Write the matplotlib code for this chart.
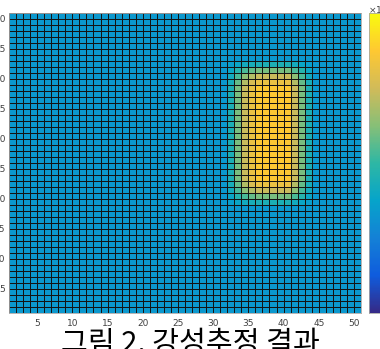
import numpy as np
import matplotlib.pyplot as plt
from matplotlib.colors import LinearSegmentedColormap

# parula-like colour map
parula_colors = ['#352a87', '#0f5cdd', '#1481d6', '#06a4ca', '#2eb7a4',
                 '#87bf77', '#d1bb59', '#fec832', '#f9fb0e']
parula = LinearSegmentedColormap.from_list('parula', parula_colors)

# grid of 51 x 51 nodes -> 50 x 50 faces
n_nodes = 51
background = 0.335
peak = 0.87

# stiff region: per-column and per-row weights of the raised patch
patch_cols = list(range(32, 44))
col_weight = [0.2, 0.5, 0.75, 0.9, 1, 1, 1, 1, 1, 0.75, 0.5, 0.2]
patch_rows = list(range(19, 43))
row_weight = [0.2, 0.5, 0.75, 0.9] + [1] * 16 + [0.9, 0.75, 0.5, 0.2]

x = np.arange(1, n_nodes + 1)
y = np.arange(1, n_nodes + 1)
C = np.full((n_nodes - 1, n_nodes - 1), background)
for r, wr in zip(patch_rows, row_weight):
    for c, wc in zip(patch_cols, col_weight):
        C[r - 1, c - 1] = background + (peak - background) * wr * wc

W, H = 380, 349
fig = plt.figure(figsize=(W / 100, H / 100), dpi=100)
ax = fig.add_axes([9 / W, 36 / H, 352 / W, 300 / H])
mesh = ax.pcolormesh(x, y, C, cmap=parula, vmin=0, vmax=1,
                     edgecolors='#141414', linewidth=0.5, shading='flat')
ax.set_xlim(1, 51)
ax.set_ylim(1, 51)
ax.set_xticks(np.arange(5, 51, 5))
ax.set_yticks(np.arange(5, 51, 5))
ax.tick_params(length=0, labelsize=6.5, labelcolor='#404040', pad=4)
ax.tick_params(axis='y', pad=2.5)
for s in ax.spines.values():
    s.set_color('#a8a8a8')
    s.set_linewidth(0.6)

cax = fig.add_axes([369 / W, 36 / H, 16 / W, 300 / H])
cb = fig.colorbar(mesh, cax=cax)
cb.outline.set_edgecolor('#a8a8a8')
cb.outline.set_linewidth(0.6)
cax.tick_params(length=0, labelsize=6.5, labelcolor='#404040')
fig.text(368 / W, 1 - 4 / H, r'$\times10^{4}$', fontsize=6.5, color='#404040',
         ha='left', va='top')

fig.text(0.5, 1 - 329 / H, '그림 2. 강성추정 결과', fontsize=21,
         family=['Noto Sans CJK KR', 'DejaVu Sans'], color='black',
         ha='center', va='top')

fig.savefig('out.png', dpi=100)
